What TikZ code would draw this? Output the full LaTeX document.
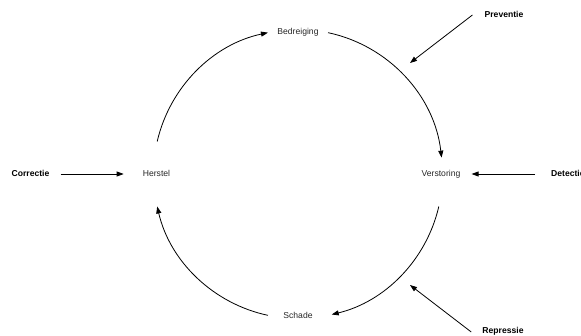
\documentclass[tikz,border=0pt]{standalone}
\usepackage{fontspec}
\setmainfont{Liberation Sans}
\usetikzlibrary{arrows.meta}
\begin{document}
\begin{tikzpicture}[x=1pt,y=-1pt,
  every node/.style={font=\fontsize{8.6}{10}\selectfont, inner sep=0pt, text height=6.5pt, text depth=1.8pt},
  phase/.style={text=black!85},
  measure/.style={font=\fontsize{8.6}{10}\selectfont\bfseries},
  flow/.style={line width=0.8pt, -{Triangle[length=7pt,width=5pt]}}]
\useasboundingbox (0,0) rectangle (581,336);

% centre of the cycle
\coordinate (c) at (298,174);

% the four phases
\node[phase] (bedreiging) at (298,32) {Bedreiging};
\node[phase] (verstoring) at (441,174) {Verstoring};
\node[phase] (schade) at (298,316) {Schade};
\node[phase] (herstel) at (156.5,174) {Herstel};

% the four measures
\node[measure] (preventie) at (504,15) {Preventie};
\node[measure, anchor=west] (detectie) at (551,174) {Detectie};
\node[measure] (repressie) at (503,331) {Repressie};
\node[measure] (correctie) at (30.5,174) {Correctie};

% end points of the arcs on the cycle
\path (c) ++(193:144.5) coordinate (a1s);
\path (c) ++(282:144.5) coordinate (a2s);
\path (c) ++(13:144.5) coordinate (a3s);
\path (c) ++(102:144.5) coordinate (a4s);

% cycle arcs
\draw[flow] (a1s) arc[start angle=193, end angle=258, radius=144.5];
\draw[flow] (a2s) arc[start angle=282, end angle=353.5, radius=144.5];
\draw[flow] (a3s) arc[start angle=13, end angle=76.5, radius=144.5];
\draw[flow] (a4s) arc[start angle=102, end angle=167, radius=144.5];

% targets of the diagonal measures
\coordinate (pt) at (410,63);
\coordinate (rt) at (410,285);

% measure arrows
\draw[flow, shorten <=11pt, shorten >=19pt] (correctie.east) -- (herstel.west);
\draw[flow, shorten <=16pt, shorten >=11pt] (detectie.west) -- (verstoring.east);
\draw[flow] (preventie.west) ++(-12,0) coordinate (ps) -- (pt);
\draw[flow] (repressie.west) ++(-11,1) coordinate (rs) -- (rt);
\end{tikzpicture}
\end{document}
